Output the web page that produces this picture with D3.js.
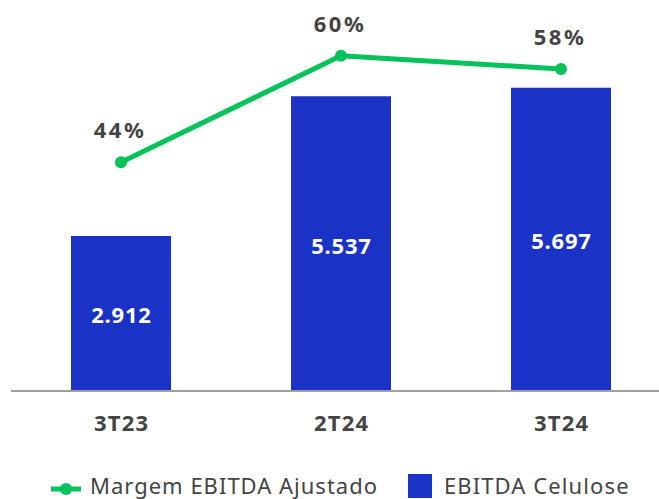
<!DOCTYPE html>
<html><head><meta charset="utf-8">
<script src="https://cdn.jsdelivr.net/npm/d3@7"></script>
<style>html,body{margin:0;padding:0;background:#fff;}svg{display:block;}</style>
</head><body>
<svg id="c" width="659" height="499"></svg>
<script>
const categories = ["3T23", "2T24", "3T24"];
const ebitdaCelulose = [2.912, 5.537, 5.697];
const ebitdaLabels = ["2.912", "5.537", "5.697"];
const margem = [44, 60, 58];
const margemLabels = ["44%", "60%", "58%"];
const legendNames = ["Margem EBITDA Ajustado", "EBITDA Celulose"];

const BLUE = "#1a32c6", GREEN = "#06c25a", TEXT = "#444444";
const FONT = "'Noto Sans', 'Open Sans', sans-serif";
const svg = d3.select("#c");

const x = d3.scaleBand().domain(categories).range([11, 671])
  .paddingInner(120/220).paddingOuter(60/220);
const yBar = d3.scaleLinear().domain([0, 6]).range([391, 71.6]);
const yLine = d3.scaleLinear().domain([0, 60]).range([455.5, 55.7]);

// bars
svg.selectAll("rect.bar").data(categories).join("rect")
  .attr("class", "bar")
  .attr("x", d => x(d)).attr("width", x.bandwidth())
  .attr("y", (d, i) => yBar(ebitdaCelulose[i]))
  .attr("height", (d, i) => yBar(0) - yBar(ebitdaCelulose[i]))
  .attr("fill", BLUE);

// bar value labels
svg.selectAll("text.val").data(categories).join("text")
  .attr("x", d => x(d) + x.bandwidth()/2 + 0.4)
  .attr("y", (d, i) => (yBar(0) + yBar(ebitdaCelulose[i]))/2 + 10)
  .attr("text-anchor", "middle")
  .attr("font-family", FONT).attr("font-weight", "bold").attr("font-size", 22)
  .attr("letter-spacing", 0.8)
  .attr("fill", "#fff")
  .text((d, i) => ebitdaLabels[i]);

// x axis
const xAxis = d3.axisBottom(x).tickSize(0).tickPadding(0);
const gx = svg.append("g").attr("transform", "translate(0,391)").call(xAxis);
gx.select(".domain").remove();
svg.append("line").attr("x1", 11).attr("x2", 659).attr("y1", 391).attr("y2", 391)
  .attr("stroke", "#a0a0a0").attr("stroke-width", 2);
gx.selectAll("text").attr("x", 0.6).attr("y", 40).attr("dy", 0)
  .attr("font-family", FONT).attr("font-weight", "bold").attr("font-size", 22)
  .attr("letter-spacing", 1.2)
  .attr("fill", TEXT);

// line
const cx = d => x(d) + x.bandwidth()/2;
const line = d3.line().x(d => cx(d)).y((d, i) => yLine(margem[i]));
svg.append("path").datum(categories).attr("d", line)
  .attr("fill", "none").attr("stroke", GREEN).attr("stroke-width", 5)
  .attr("stroke-linejoin", "round");
svg.selectAll("circle.pt").data(categories).join("circle")
  .attr("cx", d => cx(d)).attr("cy", (d, i) => yLine(margem[i]))
  .attr("r", 6).attr("fill", GREEN);
svg.selectAll("text.pct").data(categories).join("text")
  .attr("x", d => cx(d) - 1).attr("y", (d, i) => yLine(margem[i]) - 24)
  .attr("text-anchor", "middle")
  .attr("font-family", FONT).attr("font-weight", "bold").attr("font-size", 22)
  .attr("letter-spacing", 2.5)
  .attr("fill", TEXT)
  .text((d, i) => margemLabels[i]);

// legend
const lg = svg.append("g");
lg.append("line").attr("x1", 51).attr("x2", 81).attr("y1", 489).attr("y2", 489)
  .attr("stroke", GREEN).attr("stroke-width", 5);
lg.append("circle").attr("cx", 66).attr("cy", 489).attr("r", 6).attr("fill", GREEN);
lg.append("text").attr("x", 90).attr("y", 494)
  .attr("font-family", FONT).attr("font-size", 22).attr("fill", TEXT)
  .attr("letter-spacing", 1)
  .text(legendNames[0]);
lg.append("rect").attr("x", 408).attr("y", 474).attr("width", 24).attr("height", 24)
  .attr("fill", BLUE);
lg.append("text").attr("x", 444).attr("y", 494)
  .attr("font-family", FONT).attr("font-size", 22).attr("fill", TEXT)
  .attr("letter-spacing", 1.1)
  .text(legendNames[1]);
</script>
</body></html>
